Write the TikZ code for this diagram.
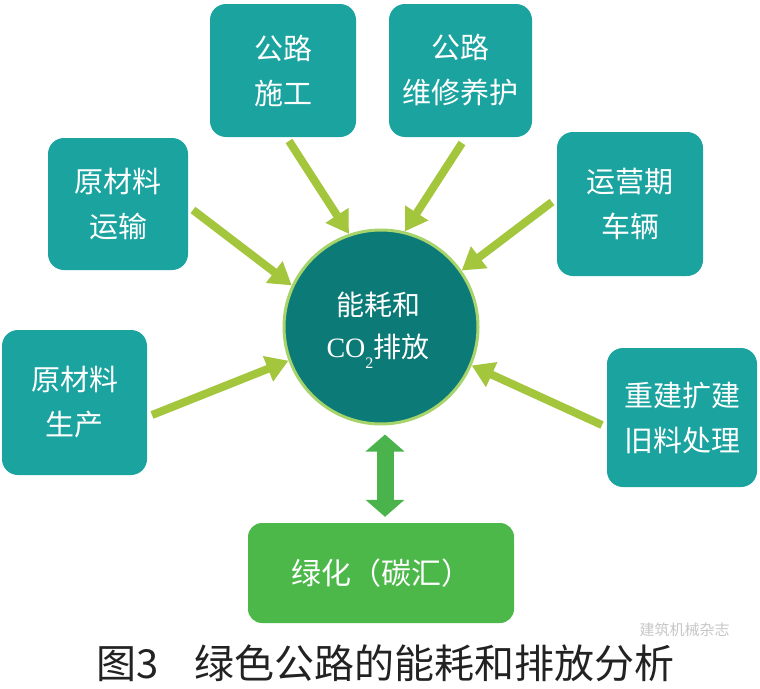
\documentclass[tikz,border=0pt]{standalone}
\usepackage{fontspec}
\setmainfont{Noto Sans CJK SC}
\newfontfamily\cjk{Noto Sans CJK SC}
\newfontfamily\serifco{Liberation Serif}
\usetikzlibrary{arrows.meta}
\definecolor{boxteal}{HTML}{1BA3A0}
\definecolor{circteal}{HTML}{0C7A76}
\definecolor{circrim}{HTML}{A6D46A}
\definecolor{arrowgreen}{HTML}{A3C63C}
\definecolor{leafgreen}{HTML}{4CB84A}
\definecolor{dblgreen}{HTML}{4BB34C}
\definecolor{captext}{HTML}{222222}
\begin{document}
\begin{tikzpicture}[x=1pt,y=-1pt,
  tealbox/.style={fill=boxteal, rounded corners=16pt, text=white, align=center,
    inner sep=0pt, font=\cjk\fontsize{29}{45}\selectfont},
  feedarrow/.style={draw=arrowgreen, line width=8pt, -{Triangle[length=22pt,width=26pt]}},
  dblarrow/.style={draw=dblgreen, line width=17pt,
    {Triangle[length=17pt,width=38pt]}-{Triangle[length=17pt,width=38pt]}}
]
\useasboundingbox (0,0) rectangle (760,688);
\fill[white] (0,0) rectangle (760,688);

% centre circle
\node[circle, fill=circteal, draw=circrim, line width=3pt, minimum size=194pt, inner sep=0pt] (c) at (381,327) {};
\node[text=white, font=\cjk\fontsize{28}{28}\selectfont, anchor=center] (c1) at (378,305) {能耗和};
\node[text=white, font=\cjk\fontsize{28}{28}\selectfont, anchor=center] (c2) at (378,351)
  {{\serifco CO}\raisebox{-11pt}{\serifco\fontsize{16}{16}\selectfont 2}排放};

% boxes
\node[tealbox, minimum width=146pt, minimum height=133pt] (bsg) at (283,70.5) {公路\\施工};
\node[tealbox, minimum width=143pt, minimum height=133pt] (bwx) at (460.5,70.5) {公路\\维修养护};
\node[tealbox, minimum width=140pt, minimum height=132pt] (bys) at (118,204) {原材料\\运输};
\node[tealbox, minimum width=146pt, minimum height=144pt] (byy) at (630,204) {运营期\\车辆};
\node[tealbox, minimum width=150pt, minimum height=139pt] (bcx) at (682,417.5) {重建扩建\\旧料处理};
\node[tealbox, minimum width=145pt, minimum height=145pt] (bsc) at (74.5,402.5) {原材料\\生产};

% green box
\node[fill=leafgreen, rounded corners=14pt, minimum width=266pt, minimum height=100pt,
  inner sep=0pt, text=white, font=\cjk\fontsize{30}{30}\selectfont] (g) at (381,573) {绿化（碳汇）};

% arrow tails
\coordinate (t1) at (152,415);
\coordinate (t2) at (193,210);
\coordinate (t3) at (289,141);
\coordinate (t4) at (462,143);
\coordinate (t5) at (552,202);
\coordinate (t6) at (602,425);

\draw[feedarrow] (t1) -- (c.200.6);
\draw[feedarrow] (t2) -- (c.155.6);
\draw[feedarrow] (t3) -- (c.109.2);
\draw[feedarrow] (t4) -- (c.76.4);
\draw[feedarrow] (t5) -- (c.35.5);
\draw[feedarrow] (t6) -- (c.337.3);

% double arrow
\draw[dblarrow, shorten <=6pt, shorten >=9pt] ([xshift=4pt]g.north) -- ([xshift=4pt]c.south);

% caption
\node[text=captext, font=\cjk\fontsize{40}{40}\selectfont, anchor=west] (cap) at (93,663)
  {图3\hspace{36pt}绿色公路的能耗和排放分析};
\node[text=gray!55, opacity=0.8, font=\cjk\fontsize{15}{15}\selectfont, anchor=west] (wm) at (636,630) {建筑机械杂志};
\end{tikzpicture}
\end{document}
